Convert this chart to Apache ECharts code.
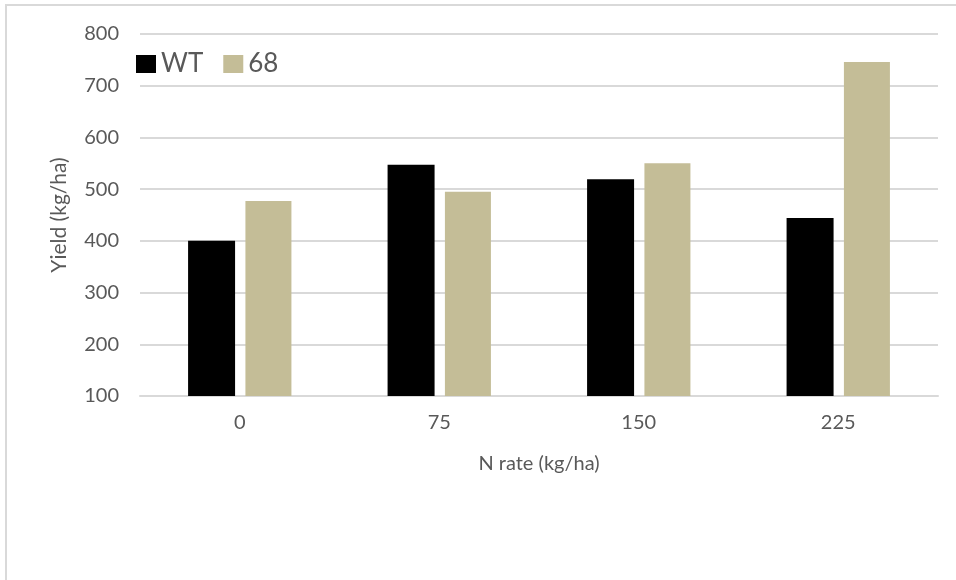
<!DOCTYPE html>
<html>
<head>
<meta charset="utf-8">
<script src="https://cdn.jsdelivr.net/npm/echarts@6/dist/echarts.min.js"></script>
<style>html,body{margin:0;padding:0;background:#fff}#c{width:956px;height:580px}</style>
</head>
<body>
<div id="c"></div>
<script>
const categories = ['0', '75', '150', '225'];
const seriesNames = ['WT', '68'];
const wtValues = [400, 547, 519, 444];
const v68Values = [477, 495, 550, 746];
const yTicks = [100, 200, 300, 400, 500, 600, 700, 800];

const font = 'Lato, "Open Sans", sans-serif';
const chart = echarts.init(document.getElementById('c'), null, {renderer: 'canvas'});
chart.setOption({
  animation: false,
  backgroundColor: '#fff',
  graphic: [{
    type: 'rect', shape: {x: 6, y: 5, width: 980, height: 620},
    style: {fill: 'none', stroke: '#d9d9d9', lineWidth: 2}, silent: true
  }],
  legend: {
    left: 131, top: 46, itemWidth: 20, itemHeight: 18, itemGap: 20,
    icon: 'rect',
    textStyle: {fontFamily: font, fontSize: 26, color: '#595959', padding: [0, 0, 0, 0]},
    data: seriesNames
  },
  grid: {left: 140, right: 18, top: 34, bottom: 184},
  xAxis: {
    type: 'category', data: categories,
    axisLine: {show: true, lineStyle: {color: '#d9d9d9', width: 2}},
    axisTick: {show: false},
    axisLabel: {fontFamily: font, fontSize: 20, color: '#595959', margin: 17},
    name: 'N rate (kg/ha)', nameLocation: 'middle', nameGap: 58,
    nameTextStyle: {fontFamily: font, fontSize: 20, color: '#595959'}
  },
  yAxis: {
    type: 'value', min: yTicks[0], max: yTicks[yTicks.length - 1], interval: 100,
    axisLine: {show: false}, axisTick: {show: false},
    splitLine: {lineStyle: {color: '#d9d9d9', width: 2}},
    axisLabel: {fontFamily: font, fontSize: 20, color: '#595959', margin: 21},
    name: 'Yield (kg/ha)', nameLocation: 'middle', nameGap: 70,
    nameTextStyle: {fontFamily: font, fontSize: 21, color: '#595959'}
  },
  series: [
    {name: seriesNames[0], type: 'bar', data: wtValues, barWidth: 47, barGap: '22%',
     itemStyle: {color: '#000000'}},
    {name: seriesNames[1], type: 'bar', data: v68Values, barWidth: 46,
     itemStyle: {color: '#C4BD97'}}
  ]
});
</script>
</body>
</html>
